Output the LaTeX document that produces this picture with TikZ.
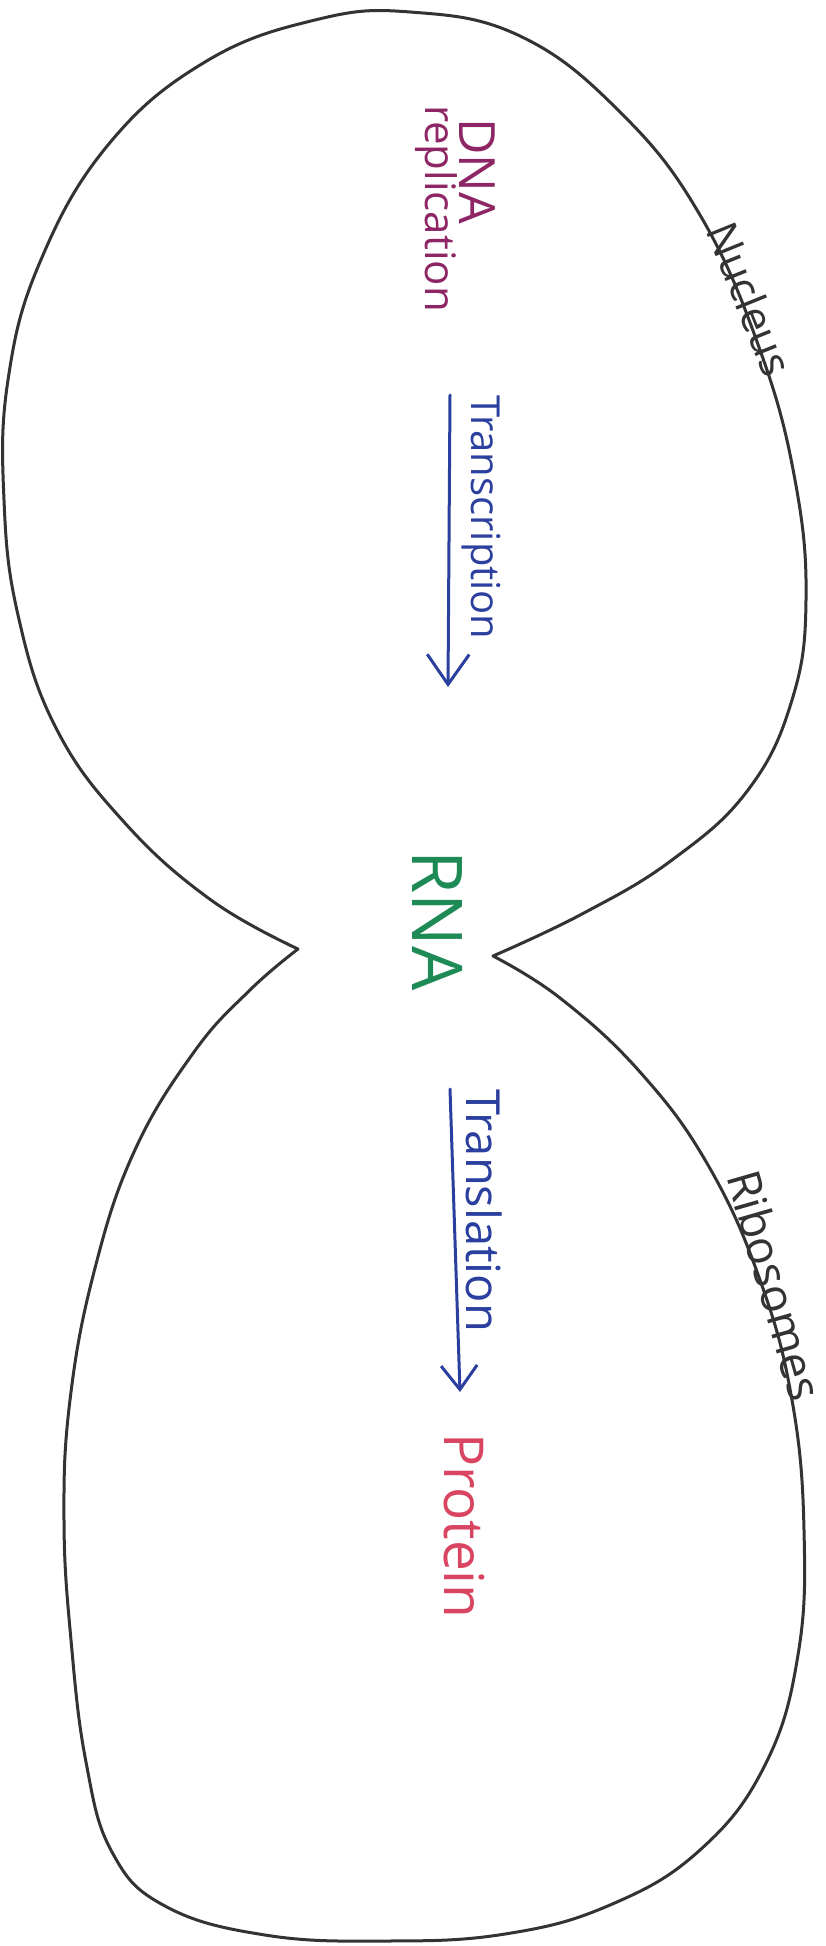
\documentclass[tikz,border=0pt]{standalone}
\usepackage{fontspec}
\setmainfont{Open Sans}
\usetikzlibrary{arrows.meta}
\definecolor{outl}{HTML}{333333}
\definecolor{dnac}{HTML}{8E2565}
\definecolor{bluec}{HTML}{2B3F9E}
\definecolor{rnac}{HTML}{1E8A55}
\definecolor{protc}{HTML}{D94560}
\begin{document}
\begin{tikzpicture}[x=1pt,y=-1pt,
  outline/.style={draw=outl,line width=3pt,line join=round,line cap=round},
  flowbig/.style={draw=bluec,line width=3pt,line cap=round,-{Straight Barb[length=30pt,width=42pt]}},
  flowsmall/.style={draw=bluec,line width=3pt,line cap=round,-{Straight Barb[length=24pt,width=36pt]}},
  vlabel/.style={inner sep=0pt,outer sep=0pt,rotate=-90,anchor=base west},
  slabel/.style={inner sep=0pt,outer sep=0pt,anchor=base west,text=outl},
]
\useasboundingbox (0,0) rectangle (825,1946);
\fill[white] (0,0) rectangle (825,1946);

% outline: nucleus (top) and ribosome region (bottom)
\draw[outline]
  plot[smooth,tension=0.7] coordinates {(298,949) (211,900) (124,822) (56,728) (18,615) (4,500) (8,380) (40,262) (108,145) (205,62) (315,20) (410,12) (520,36) (620,112) (700,215) (760,350) (795,480) (806,600) (792,700) (748,790) (672,860) (582,914) (493,956)}
  -- plot[smooth,tension=0.7] coordinates {(493,956) (560,998) (640,1072) (708,1165) (760,1280) (792,1400) (804,1530) (798,1655) (765,1765) (700,1850) (610,1905) (505,1934) (385,1941) (265,1935) (165,1906) (112,1852) (86,1762) (71,1640) (64,1520) (70,1400) (94,1272) (134,1152) (194,1052) (250,990) (298,949)}
  -- cycle;

% labels
\node[vlabel,text=dnac,font=\fontsize{50}{60}\selectfont] (dna) at (459,118) {DNA};
\node[vlabel,text=dnac,font=\fontsize{42}{50}\selectfont] (repl) at (425,105) {replication};
\node[vlabel,text=bluec,font=\fontsize{40}{48}\selectfont] (transc) at (471,395) {Transcription};
\node[vlabel,text=rnac,font=\fontsize{70}{84}\selectfont] (rna) at (412,850) {RNA};
\node[vlabel,text=bluec,font=\fontsize{47}{56}\selectfont] (transl) at (466,1089) {Translation};
\node[vlabel,text=protc,font=\fontsize{55}{66}\selectfont] (prot) at (444,1433) {Protein};
\node[slabel,rotate=-68,font=\fontsize{43}{52}\selectfont] (nuc) at (705,230) {Nucleus};
\node[slabel,rotate=-74,font=\fontsize{46}{55}\selectfont] (ribo) at (726,1176) {Ribosomes};

% arrows
\coordinate (a1s) at (450,395);
\coordinate (a1e) at (448,687);
\coordinate (a2s) at (450,1089);
\coordinate (a2e) at (460,1392);
\draw[flowbig] (a1s) -- (a1e);
\draw[flowsmall] (a2s) -- (a2e);
\end{tikzpicture}
\end{document}
